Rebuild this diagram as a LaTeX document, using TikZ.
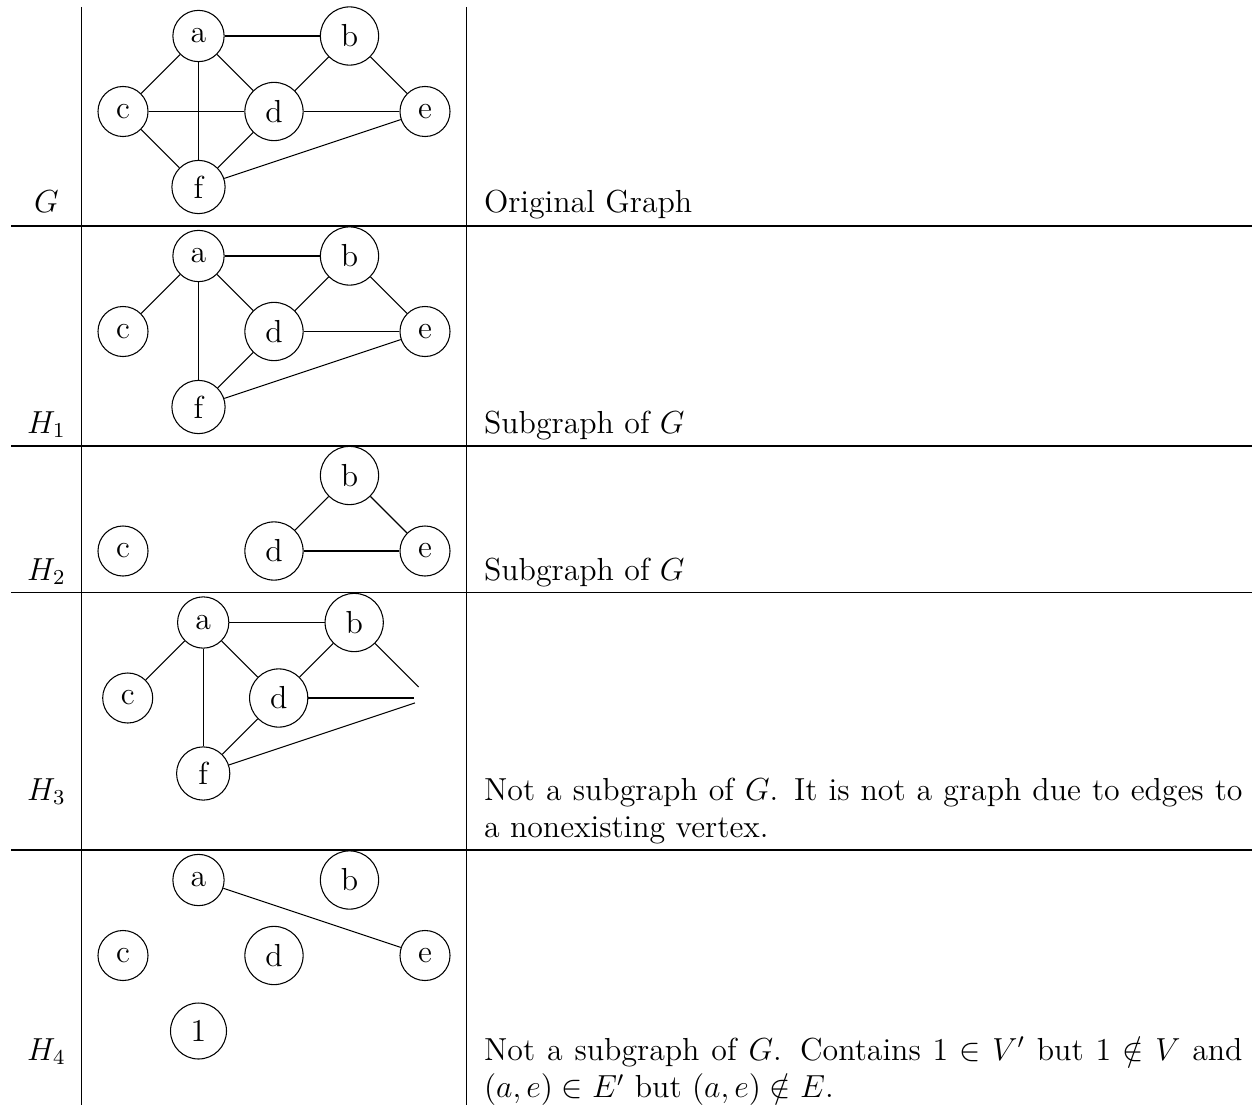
\documentclass[tikz,border=0pt]{standalone}
\begin{document}
\begin{tikzpicture}[x=0.37665pt, y=-0.37665pt,
  font=\fontsize{12}{14.3}\selectfont,
  vtx/.style={circle, draw, inner sep=4pt},
  ghost/.style={circle, inner sep=4pt},
  rowlabel/.style={anchor=base, inner sep=0},
  desc/.style={anchor=base west, inner sep=0},
  rule/.style={line width=0.4pt}]
\useasboundingbox (0,0) rectangle (1252,1105);

% ---- table rules ----
\draw[rule] (81.7,7) -- (81.7,1105);
\draw[rule] (466.7,7) -- (466.7,1105);
\foreach \yy in {226,446,592.7,850}
  \draw[rule] (11,\yy) -- (1252,\yy);

% ---- row G : original graph ----
\begin{scope}[shift={(123,36)}]
  \node[vtx] (ga) at (75.5,0) {a};
  \node[vtx] (gb) at (226.5,0) {b};
  \node[vtx] (gc) at (0,75.5) {c};
  \node[vtx] (gd) at (151,75.5) {d};
  \node[vtx] (ge) at (302,75.5) {e};
  \node[vtx] (gf) at (75.5,151) {f};
  \draw (ga) -- (gb);
  \draw (ga) -- (gc);
  \draw (ga) -- (gd);
  \draw (ga) -- (gf);
  \draw (gb) -- (gd);
  \draw (gb) -- (ge);
  \draw (gc) -- (gd);
  \draw (gc) -- (gf);
  \draw (gd) -- (ge);
  \draw (gd) -- (gf);
  \draw (ge) -- (gf);
\end{scope}
\node[rowlabel] (lg) at (46.4,212.5) {$G$};
\node[desc] (tg) at (483.5,212.5) {Original Graph};

% ---- row H1 ----
\begin{scope}[shift={(123,256)}]
  \node[vtx] (ha) at (75.5,0) {a};
  \node[vtx] (hb) at (226.5,0) {b};
  \node[vtx] (hc) at (0,75.5) {c};
  \node[vtx] (hd) at (151,75.5) {d};
  \node[vtx] (he) at (302,75.5) {e};
  \node[vtx] (hf) at (75.5,151) {f};
  \draw (ha) -- (hb);
  \draw (ha) -- (hc);
  \draw (ha) -- (hd);
  \draw (ha) -- (hf);
  \draw (hb) -- (hd);
  \draw (hb) -- (he);
  \draw (hd) -- (he);
  \draw (hd) -- (hf);
  \draw (he) -- (hf);
\end{scope}
\node[rowlabel] (lh1) at (46.4,433) {$H_1$};
\node[desc] (th1) at (483.5,433) {Subgraph of $G$};

% ---- row H2 ----
\begin{scope}[shift={(123,475.5)}]
  \node[vtx] (ib) at (226.5,0) {b};
  \node[vtx] (ic) at (0,75.5) {c};
  \node[vtx] (id) at (151,75.5) {d};
  \node[vtx] (ie) at (302,75.5) {e};
  \draw (ib) -- (id);
  \draw (ib) -- (ie);
  \draw (id) -- (ie);
\end{scope}
\node[rowlabel] (lh2) at (46.4,580) {$H_2$};
\node[desc] (th2) at (483.5,580) {Subgraph of $G$};

% ---- row H3 : edges run to a vertex that is not there ----
\begin{scope}[shift={(127.7,622.5)}]
  \node[vtx] (ja) at (75.5,0) {a};
  \node[vtx] (jb) at (226.5,0) {b};
  \node[vtx] (jc) at (0,75.5) {c};
  \node[vtx] (jd) at (151,75.5) {d};
  \node[ghost] (je) at (302,75.5) {};
  \node[vtx] (jf) at (75.5,151) {f};
  \draw (ja) -- (jb);
  \draw (ja) -- (jc);
  \draw (ja) -- (jd);
  \draw (ja) -- (jf);
  \draw (jb) -- (jd);
  \draw (jb) -- (je);
  \draw (jd) -- (je);
  \draw (jd) -- (jf);
  \draw (je) -- (jf);
\end{scope}
\node[rowlabel] (lh3) at (46.4,800) {$H_3$};
\node[desc] (th3) at (483.5,800) {\parbox[t]{285.7pt}{Not a subgraph of $G$. It is not a graph due to edges to a nonexisting vertex.}};

% ---- row H4 ----
\begin{scope}[shift={(123,880)}]
  \node[vtx] (ka) at (75.5,0) {a};
  \node[vtx] (kb) at (226.5,0) {b};
  \node[vtx] (kc) at (0,75.5) {c};
  \node[vtx] (kd) at (151,75.5) {d};
  \node[vtx] (ke) at (302,75.5) {e};
  \node[vtx] (k1) at (75.5,151) {1};
  \draw (ka) -- (ke);
\end{scope}
\node[rowlabel] (lh4) at (46.4,1060) {$H_4$};
\node[desc] (th4) at (483.5,1060) {\parbox[t]{285.7pt}{Not a subgraph of $G$. Contains $1 \in V'$ but $1 \notin V$ and $(a,e) \in E'$ but $(a,e) \notin E$.}};
\end{tikzpicture}
\end{document}
